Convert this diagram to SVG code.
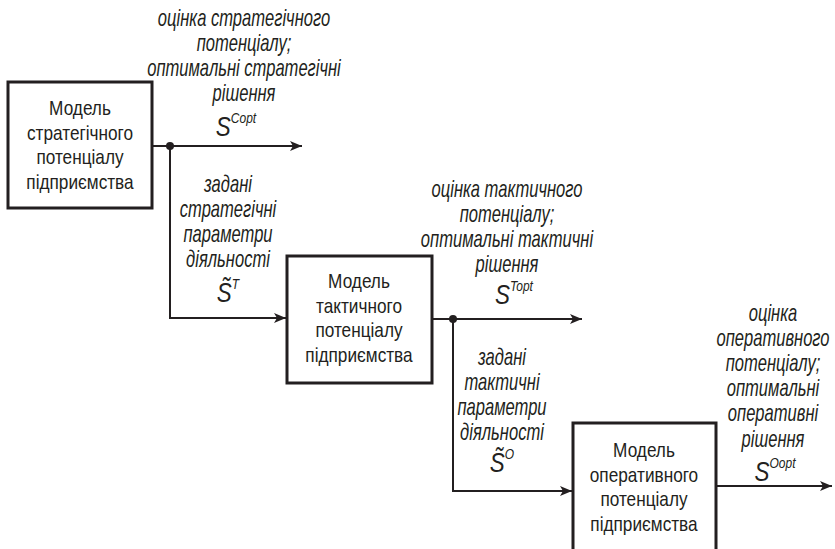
<svg xmlns="http://www.w3.org/2000/svg" width="835" height="549" viewBox="0 0 835 549">
  <style>
    .box { fill: #ffffff; stroke: #231f20; stroke-width: 3; }
    .wire { fill: none; stroke: #231f20; stroke-width: 2; }
    .dot { fill: #231f20; }
    .name { font-family: "Liberation Sans", Arial, sans-serif; font-size: 21px; fill: #231f20; text-anchor: middle; }
    .lbl { font-family: "Liberation Sans", Arial, sans-serif; font-style: italic; font-size: 23px; fill: #231f20; text-anchor: middle; }
    .sym { font-family: "Liberation Sans", Arial, sans-serif; font-style: italic; font-size: 28px; fill: #231f20; text-anchor: middle; }
    .sup { font-size: 15px; }
  </style>
  <defs>
    <marker id="arrow" markerUnits="userSpaceOnUse" markerWidth="12" markerHeight="10" refX="12" refY="5" orient="auto">
      <path d="M0,0 L12,5 L0,10 L3,5 Z" fill="#231f20"/>
    </marker>
  </defs>

  <rect width="835" height="549" fill="#ffffff"/>

  <!-- connectors -->
  <g id="connectors">
    <path class="wire" d="M153,146 H302" marker-end="url(#arrow)"/>
    <path class="wire" d="M170,146 V318 H286" marker-end="url(#arrow)"/>
    <path class="wire" d="M432,319 H582" marker-end="url(#arrow)"/>
    <path class="wire" d="M453,319 V491 H572" marker-end="url(#arrow)"/>
    <path class="wire" d="M716,486 H832" marker-end="url(#arrow)"/>
    <circle class="dot" cx="170" cy="146" r="4"/>
    <circle class="dot" cx="453" cy="319" r="4"/>
  </g>

  <!-- strategic model -->
  <g id="strategic">
    <rect class="box" x="8" y="82" width="144" height="126"/>
    <text class="name" transform="translate(80,115) scale(0.82,1)">Модель</text>
    <text class="name" transform="translate(80,139.5) scale(0.82,1)">стратегічного</text>
    <text class="name" transform="translate(80,164) scale(0.82,1)">потенціалу</text>
    <text class="name" transform="translate(80,188.5) scale(0.82,1)">підприємства</text>
  </g>

  <!-- tactical model -->
  <g id="tactical">
    <rect class="box" x="287" y="256" width="145" height="127"/>
    <text class="name" transform="translate(359,288) scale(0.82,1)">Модель</text>
    <text class="name" transform="translate(359,312.5) scale(0.82,1)">тактичного</text>
    <text class="name" transform="translate(359,337) scale(0.82,1)">потенціалу</text>
    <text class="name" transform="translate(359,361.5) scale(0.82,1)">підприємства</text>
  </g>

  <!-- operational model -->
  <g id="operational">
    <rect class="box" x="573" y="423" width="143" height="130"/>
    <text class="name" transform="translate(644,457) scale(0.82,1)">Модель</text>
    <text class="name" transform="translate(644,481.5) scale(0.82,1)">оперативного</text>
    <text class="name" transform="translate(644,506) scale(0.82,1)">потенціалу</text>
    <text class="name" transform="translate(644,530.5) scale(0.82,1)">підприємства</text>
  </g>

  <!-- strategic output -->
  <g id="label-s-copt">
    <text class="lbl" transform="translate(244,26) scale(0.72,1)">оцінка стратегічного</text>
    <text class="lbl" transform="translate(244,51) scale(0.72,1)">потенціалу;</text>
    <text class="lbl" transform="translate(244,76) scale(0.72,1)">оптимальні стратегічні</text>
    <text class="lbl" transform="translate(244,101) scale(0.72,1)">рішення</text>
    <text class="sym" transform="translate(236,136) scale(0.8,1)">S<tspan class="sup" dy="-13">Copt</tspan></text>
  </g>

  <!-- strategic parameters passed down -->
  <g id="label-s-t">
    <text class="lbl" transform="translate(228,192) scale(0.72,1)">задані</text>
    <text class="lbl" transform="translate(228,217) scale(0.72,1)">стратегічні</text>
    <text class="lbl" transform="translate(228,242) scale(0.72,1)">параметри</text>
    <text class="lbl" transform="translate(228,267) scale(0.72,1)">діяльності</text>
    <text class="sym" transform="translate(228,302) scale(0.8,1)">S̃<tspan class="sup" dy="-13">T</tspan></text>
  </g>

  <!-- tactical output -->
  <g id="label-s-topt">
    <text class="lbl" transform="translate(507,197) scale(0.72,1)">оцінка тактичного</text>
    <text class="lbl" transform="translate(507,222) scale(0.72,1)">потенціалу;</text>
    <text class="lbl" transform="translate(507,247) scale(0.72,1)">оптимальні тактичні</text>
    <text class="lbl" transform="translate(507,272) scale(0.72,1)">рішення</text>
    <text class="sym" transform="translate(514,304) scale(0.8,1)">S<tspan class="sup" dy="-13">Topt</tspan></text>
  </g>

  <!-- tactical parameters passed down -->
  <g id="label-s-o">
    <text class="lbl" transform="translate(502,365) scale(0.72,1)">задані</text>
    <text class="lbl" transform="translate(502,390) scale(0.72,1)">тактичні</text>
    <text class="lbl" transform="translate(502,415) scale(0.72,1)">параметри</text>
    <text class="lbl" transform="translate(502,440) scale(0.72,1)">діяльності</text>
    <text class="sym" transform="translate(502,472) scale(0.8,1)">S̃<tspan class="sup" dy="-13">O</tspan></text>
  </g>

  <!-- operational output -->
  <g id="label-s-oopt">
    <text class="lbl" transform="translate(773,321) scale(0.72,1)">оцінка</text>
    <text class="lbl" transform="translate(773,346) scale(0.72,1)">оперативного</text>
    <text class="lbl" transform="translate(773,371) scale(0.72,1)">потенціалу;</text>
    <text class="lbl" transform="translate(773,396) scale(0.72,1)">оптимальні</text>
    <text class="lbl" transform="translate(773,421) scale(0.72,1)">оперативні</text>
    <text class="lbl" transform="translate(773,447) scale(0.72,1)">рішення</text>
    <text class="sym" transform="translate(775,481) scale(0.8,1)">S<tspan class="sup" dy="-13">Oopt</tspan></text>
  </g>
</svg>
